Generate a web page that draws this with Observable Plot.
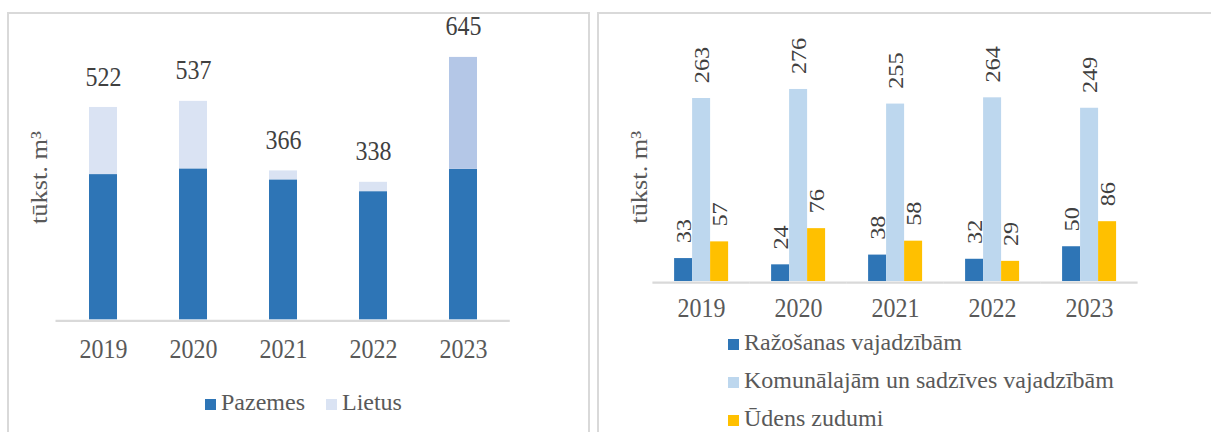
<!DOCTYPE html>
<html><head><meta charset="utf-8">
<script src="https://cdn.jsdelivr.net/npm/d3@7"></script>
<script src="https://cdn.jsdelivr.net/npm/@observablehq/plot@0.6"></script>
<style>
html,body{margin:0;padding:0;background:#fff;width:1211px;height:432px;overflow:hidden;position:relative;font-family:"Liberation Serif","Times New Roman",serif;}
.panel{position:absolute;box-sizing:border-box;border:2px solid #d9d9d9;}
#p1{left:7px;top:12px;width:583px;height:440px;}
#p2{left:597px;top:12px;width:700px;height:440px;}
.chart{position:absolute;top:0;}
.chart svg{transform:scaleY(1.1);transform-origin:0 0;display:block;}
#c1{left:0px}
#c2{left:596px}
.legend{position:absolute;font-size:24px;color:#595959;white-space:nowrap;font-family:"Liberation Serif","Times New Roman",serif;}
.sw{display:inline-block;width:11px;height:11px;margin-right:5px;}
#l1{left:205px;top:387px;line-height:30px;}
#l2{left:728px;top:323px;line-height:38px;}
</style></head><body>
<div class="panel" id="p1"></div><div class="panel" id="p2"></div>
<div class="chart" id="c1"></div><div class="chart" id="c2"></div>
<div class="legend" id="l1"></div><div class="legend" id="l2"></div>
<script>
// ---- data ----
const years = ["2019", "2020", "2021", "2022", "2023"];
const leftSeries = ["Pazemes", "Lietus"];
const pazemes = [357, 371, 344, 315, 370];
const lietus = [165, 166, 22, 23, 275];
const totals = [522, 537, 366, 338, 645];

const rightSeries = ["Ražošanas vajadzībām", "Komunālajām un sadzīves vajadzībām", "Ūdens zudumi"];
const razosanas = [33, 24, 38, 32, 50];
const komunalajam = [263, 276, 255, 264, 249];
const zudumi = [57, 76, 58, 29, 86];

const yTitle = "tūkst. m³";

// ---- tables ----
const leftData = years.flatMap((year, i) => [
  {year, series: leftSeries[0], value: pazemes[i]},
  {year, series: leftSeries[1], value: lietus[i]}
]);
const totalData = years.map((year, i) => ({year, value: totals[i]}));
const rightData = years.flatMap((year, i) => [
  {year, series: rightSeries[0], value: razosanas[i]},
  {year, series: rightSeries[1], value: komunalajam[i]},
  {year, series: rightSeries[2], value: zudumi[i]}
]);

const leftColors = {"Pazemes": "#2e75b6", "Lietus": "#dae3f3", "Lietus 2023": "#b4c7e7"};
const rightColors = ["#2e75b6", "#bdd7ee", "#ffc000"];
const font = '"Liberation Serif", "Times New Roman", serif';

// SVGs are stretched vertically by 1.1 (CSS) to match the reference's tall glyphs
const left = Plot.plot({
  width: 590, height: 352.7,
  marginLeft: 55.5, marginRight: 80.2, marginTop: 31.4, marginBottom: 62.4,
  style: {fontFamily: font, fontSize: "24px", color: "#595959", background: "transparent", overflow: "visible"},
  x: {domain: years, paddingInner: 0.689, paddingOuter: 0.3445, tickSize: 0, tickPadding: 17.5, label: null},
  y: {domain: [0, 700], axis: null},
  color: {domain: Object.keys(leftColors), range: Object.values(leftColors)},
  marks: [
    Plot.ruleY([0], {stroke: "#d9d9d9", strokeWidth: 2, dy: 1}),
    Plot.barY(leftData, {x: "year", y: "value", fill: d => (d.series === "Lietus" && d.year === "2023") ? "Lietus 2023" : d.series}),
    Plot.text(totalData, {x: "year", y: "value", text: "value", lineAnchor: "bottom", dy: -20, fill: "#404040", fontSize: 24}),
    Plot.text([yTitle], {text: d => d, frameAnchor: "left", textAnchor: "middle", lineAnchor: "middle", rotate: -90, dx: -16.5, fill: "#595959", fontSize: 24})
  ]
});
document.getElementById("c1").appendChild(left);

const right = Plot.plot({
  width: 615, height: 292.7,
  marginLeft: 54.9, marginRight: 71.9, marginTop: 65.7, marginBottom: 37.2,
  style: {fontFamily: font, fontSize: "24px", color: "#595959", background: "transparent", overflow: "visible"},
  fx: {domain: years, paddingInner: 0.421, paddingOuter: 0.2105, axis: "bottom", tickSize: 0, tickPadding: 15.4, label: null},
  x: {domain: rightSeries, axis: null, padding: 0},
  y: {domain: [0, 300], axis: null},
  color: {domain: rightSeries, range: rightColors},
  marks: [
    Plot.ruleY([0], {stroke: "#d9d9d9", strokeWidth: 2, dy: 1, insetLeft: -20.6, insetRight: -20.6}),
    Plot.barY(rightData, {fx: "year", x: "series", y: "value", fill: "series"}),
    Plot.text(rightData, {fx: "year", x: "series", y: "value", text: "value", rotate: -90, textAnchor: "start", dy: -14, fontSize: 22, fill: "#404040"}),
    Plot.text([yTitle], {fx: () => years[0], text: d => d, frameAnchor: "left", textAnchor: "middle", lineAnchor: "middle", rotate: -90, dx: -34.4, fill: "#595959", fontSize: 24})
  ]
});
document.getElementById("c2").appendChild(right);

// ---- legends ----
function legend(el, names, colors, vertical) {
  const div = document.getElementById(el);
  names.forEach((n, i) => {
    const item = document.createElement(vertical ? "div" : "span");
    if (!vertical && i > 0) item.style.marginLeft = "21px";
    const sw = document.createElement("span");
    sw.className = "sw";
    sw.style.background = colors[i];
    item.appendChild(sw);
    item.appendChild(document.createTextNode(n));
    div.appendChild(item);
  });
}
legend("l1", leftSeries, [leftColors["Pazemes"], leftColors["Lietus"]], false);
legend("l2", rightSeries, rightColors, true);
</script>
</body></html>
